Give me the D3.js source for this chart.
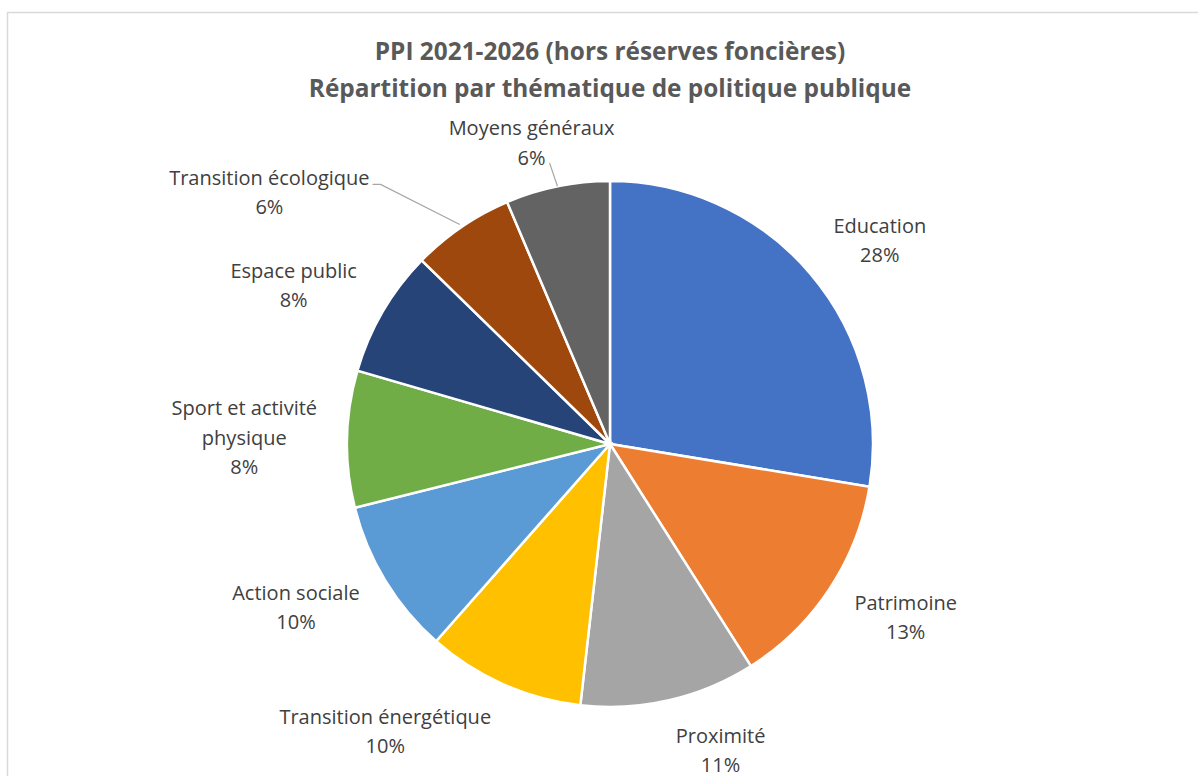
<!DOCTYPE html>
<html>
<head>
<meta charset="utf-8">
<title>PPI 2021-2026</title>
<script src="https://d3js.org/d3.v7.min.js"></script>
<style>
  body { margin: 0; background: #fff; }
</style>
</head>
<body>
<div id="chart"></div>
<script>
/* data */
var themes = ["Education", "Patrimoine", "Proximité", "Transition énergétique", "Action sociale",
              "Sport et activité physique", "Espace public", "Transition écologique", "Moyens généraux"];
var shares = [27.6, 13.4, 10.8, 9.7, 9.6, 8.4, 7.8, 6.3, 6.4];
var colors = ["#4472C4", "#ED7D31", "#A5A5A5", "#FFC000", "#5B9BD5", "#70AD47", "#264478", "#9E480E", "#636363"];
var titleLines = ["PPI 2021-2026 (hors réserves foncières)", "Répartition par thématique de politique publique"];
/* how each label wraps */
var labelLines = [["Education"], ["Patrimoine"], ["Proximité"], ["Transition énergétique"], ["Action sociale"],
                  ["Sport et activité", "physique"], ["Espace public"], ["Transition écologique"], ["Moyens généraux"]];

/* layout */
var W = 1198, H = 776, cx = 610, cy = 444, R = 263, gapX = 30, gapY = 22, lineH = 29.5;
/* labels that were pulled aside (with a leader line) to avoid overlap */
var moved = {"Transition écologique": [-75, 8], "Moyens généraux": [63, 7]};

var svg = d3.select("#chart").append("svg")
    .attr("width", W).attr("height", H);

svg.append("rect")
    .attr("x", 7.5).attr("y", 12.5)
    .attr("width", W).attr("height", H)
    .attr("fill", "none").attr("stroke", "#d9d9d9").attr("stroke-width", 1.5);

/* title */
svg.append("g").selectAll("text")
    .data(titleLines).join("text")
    .attr("x", cx).attr("y", function(d, i){ return 60 + i * 37; })
    .attr("text-anchor", "middle")
    .style("font-family", "'Open Sans', sans-serif")
    .style("font-weight", "bold").style("font-size", "24.4px")
    .attr("fill", "#595959")
    .text(function(d){ return d; });

var data = themes.map(function(t, i){
    return {name: t, v: shares[i], color: colors[i], lines: labelLines[i]};
});
var total = d3.sum(shares);

var pie = d3.pie().sort(null).value(function(d){ return d.v; });
var arcs = pie(data);
var arc = d3.arc().innerRadius(0).outerRadius(R);

var g = svg.append("g").attr("transform", "translate(" + cx + "," + cy + ")");

g.selectAll("path.slice")
    .data(arcs).join("path")
    .attr("class", "slice")
    .attr("d", arc)
    .attr("fill", function(d){ return d.data.color; })
    .attr("stroke", "#fff").attr("stroke-width", 2.5);

/* labels, placed outside the pie like Excel's best fit */
var lg = g.append("g");
arcs.forEach(function(a){
    var mid = (a.startAngle + a.endAngle) / 2,
        s = Math.sin(mid), c = Math.cos(mid);
    var lines = a.data.lines.concat([Math.round(a.data.v / total * 100) + "%"]);
    var t = lg.append("text")
        .attr("text-anchor", "middle")
        .style("font-family", "'Open Sans', sans-serif")
        .style("font-size", "20px")
        .attr("fill", "#404040");
    var spans = t.selectAll("tspan").data(lines).join("tspan").text(function(d){ return d; });
    var w = d3.max(spans.nodes(), function(n){ return n.getComputedTextLength(); }),
        h = lines.length * lineH;
    var lx = (R + gapX) * s + (w / 2) * Math.sign(s),
        ly = -(R + gapY) * c - (h / 2) * c;
    var m = moved[a.data.name];
    if (m) { lx += m[0]; ly += m[1]; }
    var y0 = ly - (lines.length - 1) * lineH / 2 + 7;
    spans.attr("x", lx)
        .attr("y", function(d, i){ return y0 + i * lineH; });

    if (m) {
        var px = R * s, py = -R * c, path;
        if (a.data.name == "Transition écologique")
            path = "M" + (lx + w / 2 + 3) + "," + (ly - 8) + "h8L" + ((R + 3) * s) + "," + (-(R + 3) * c);
        else
            path = "M" + (lx + 18) + "," + (ly + 20) + "L" + px + "," + py;
        lg.append("path").attr("d", path)
            .attr("fill", "none").attr("stroke", "#a6a6a6").attr("stroke-width", 1.2);
    }
});
</script>
</body>
</html>
